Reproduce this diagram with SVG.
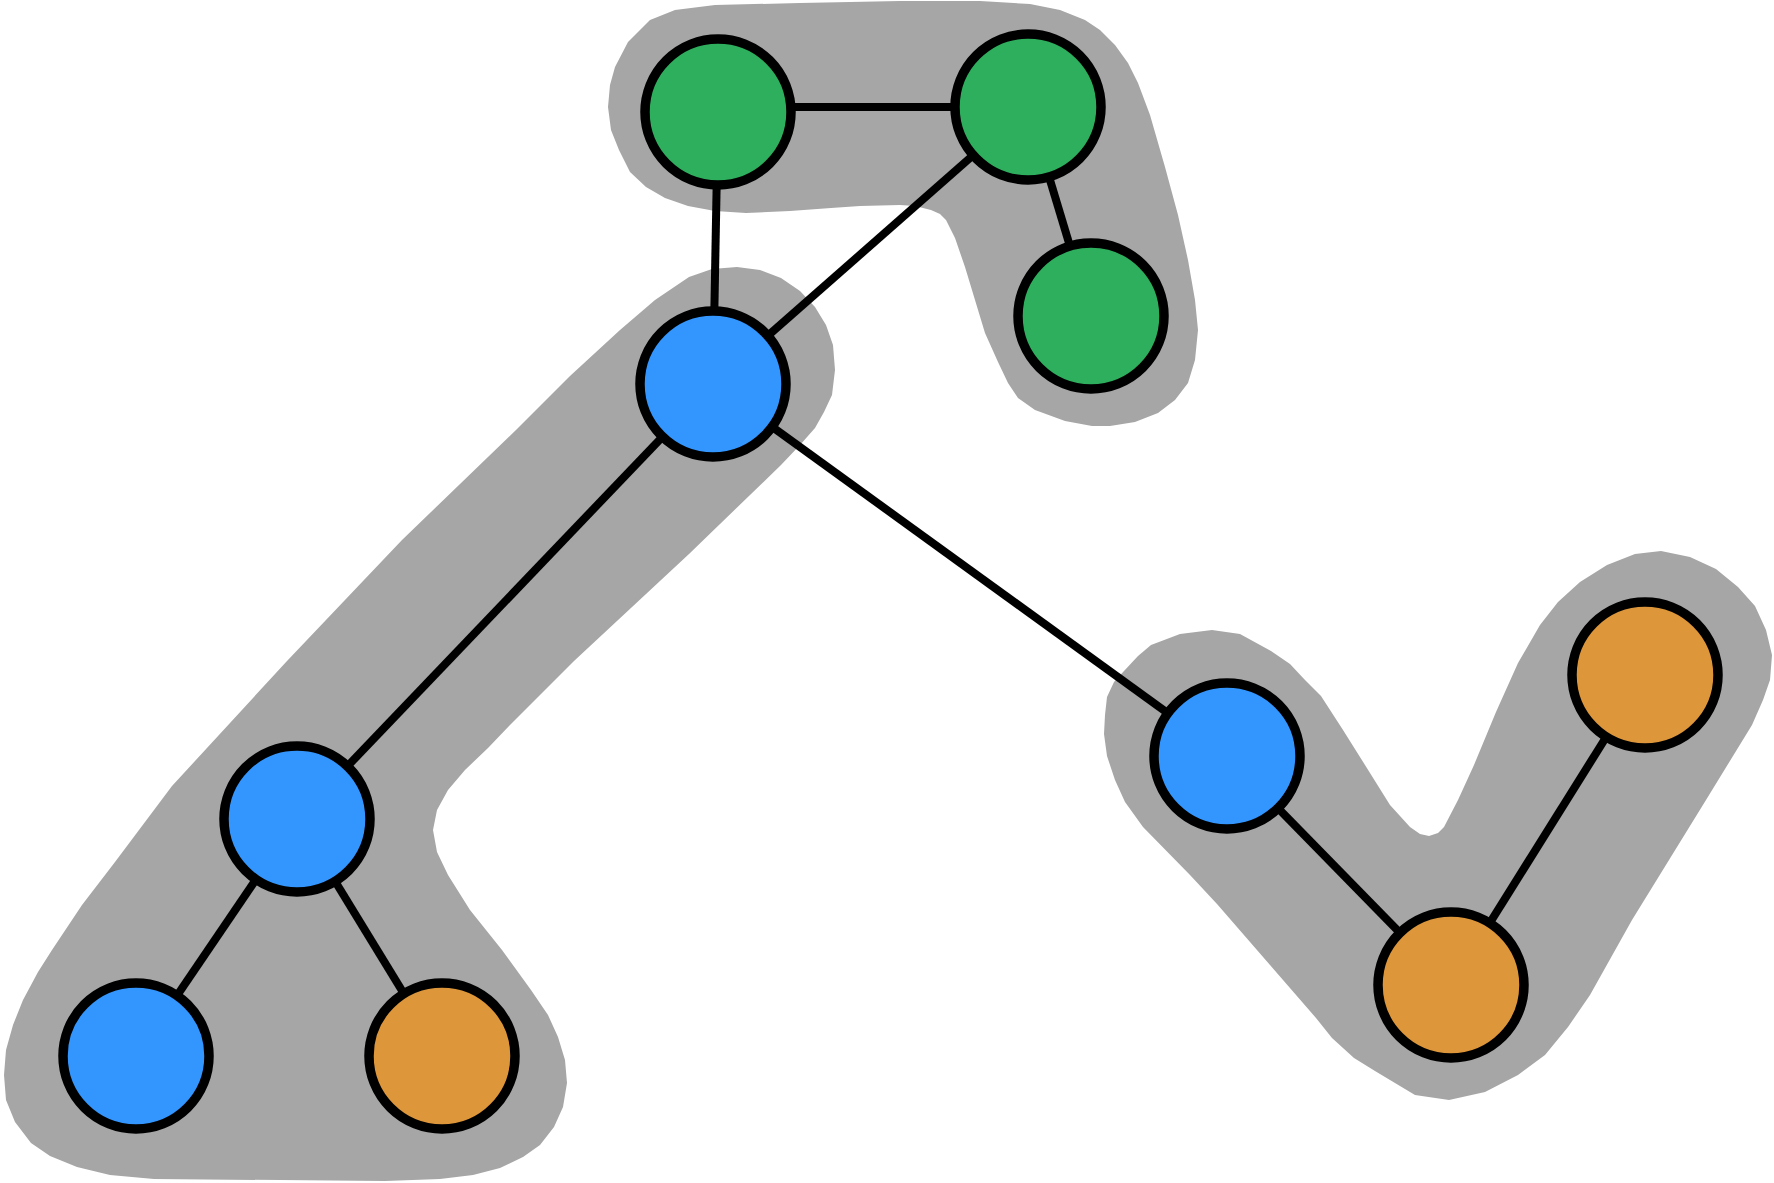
<svg xmlns="http://www.w3.org/2000/svg" width="1774" height="1183" viewBox="0 0 1774 1183">
<style>
.hull{fill:#a6a6a6;stroke:none}
.edge{stroke:#000;stroke-width:8;fill:none}
.node{stroke:#000;stroke-width:9.5}
.g{fill:#2eaf5e}.b{fill:#3396ff}.o{fill:#de963a}
</style>
<rect width="1774" height="1183" fill="#fff"/>
<g id="hulls">
<polygon id="hull-green" class="hull" points="608,107 610,85 615,67 628,42 650,20 675,10 715,5 800,3 900,1 980,1 1030,4 1060,10 1085,20 1100,30 1115,45 1128,63 1138,83 1150,115 1165,167 1178,215 1188,260 1195,300 1198,330 1195,360 1188,383 1175,400 1158,413 1135,422 1110,426 1092,426 1065,421 1035,410 1018,398 1008,383 998,362 985,333 975,300 965,267 955,238 946,220 940,214 931,210 915,206 900,205 860,206 831,208 790,211 746,213 715,211 688,206 665,198 646,187 630,172 619,150 611,130"/>
<polygon id="hull-left" class="hull" points="620,330 655,300 689,277 712,269 737,267 760,270 781,278 800,291 815,307 826,325 833,345 835,370 832,395 824,412 815,428 800,445 781,465 689,554 574,661 510,725 488,748 465,770 448,790 437,810 433,830 437,852 448,875 470,910 502,950 531,990 548,1015 558,1037 565,1060 567,1083 563,1107 554,1127 540,1145 523,1157 500,1168 473,1175 440,1179 385,1181 154,1179 110,1175 77,1167 50,1156 31,1143 15,1122 6,1100 4,1075 6,1050 13,1025 23,1000 38,972 52,950 82,905 115,862 172,786 287,661 402,540 517,429 570,376"/>
<polygon id="hull-right" class="hull" points="1104,734 1105,715 1107,697 1114,682 1124,671 1138,656 1151,645 1180,634 1212,630 1240,634 1271,651 1290,664 1305,680 1321,696 1343,730 1365,765 1390,805 1410,827 1420,834 1429,836 1438,833 1444,827 1458,800 1474,765 1496,712 1518,663 1540,625 1558,602 1580,582 1607,565 1635,554 1661,551 1690,557 1716,569 1738,587 1755,606 1766,630 1772,655 1770,680 1763,700 1752,725 1706,800 1632,920 1590,995 1568,1027 1545,1055 1518,1075 1485,1092 1449,1100 1415,1095 1375,1071 1354,1058 1332,1038 1316,1018 1270,965 1217,904 1190,875 1143,827 1125,802 1115,780 1107,756"/>
</g>
<g id="edges">
<line class="edge" x1="718" y1="107" x2="1028" y2="107"/>
<line class="edge" x1="718" y1="112" x2="713" y2="384"/>
<line class="edge" x1="1028" y1="107" x2="713" y2="384"/>
<line class="edge" x1="1028" y1="107" x2="1091" y2="316"/>
<line class="edge" x1="713" y1="384" x2="297" y2="819"/>
<line class="edge" x1="713" y1="384" x2="1227" y2="756"/>
<line class="edge" x1="297" y1="819" x2="136" y2="1056"/>
<line class="edge" x1="297" y1="819" x2="442" y2="1056"/>
<line class="edge" x1="1227" y1="756" x2="1451" y2="985"/>
<line class="edge" x1="1451" y1="985" x2="1645" y2="675"/>
</g>
<g id="n-green1"><circle class="node g" cx="718" cy="112" r="73"/></g>
<g id="n-green2"><circle class="node g" cx="1028" cy="107" r="73"/></g>
<g id="n-green3"><circle class="node g" cx="1091" cy="316" r="73"/></g>
<g id="n-blue-top"><circle class="node b" cx="713" cy="384" r="73"/></g>
<g id="n-blue-mid"><circle class="node b" cx="297" cy="819" r="73"/></g>
<g id="n-blue-bl"><circle class="node b" cx="136" cy="1056" r="73"/></g>
<g id="n-orange-b"><circle class="node o" cx="442" cy="1056" r="73"/></g>
<g id="n-blue-r"><circle class="node b" cx="1227" cy="756" r="73"/></g>
<g id="n-orange-br"><circle class="node o" cx="1451" cy="985" r="73"/></g>
<g id="n-orange-tr"><circle class="node o" cx="1645" cy="675" r="73"/></g>
</svg>
